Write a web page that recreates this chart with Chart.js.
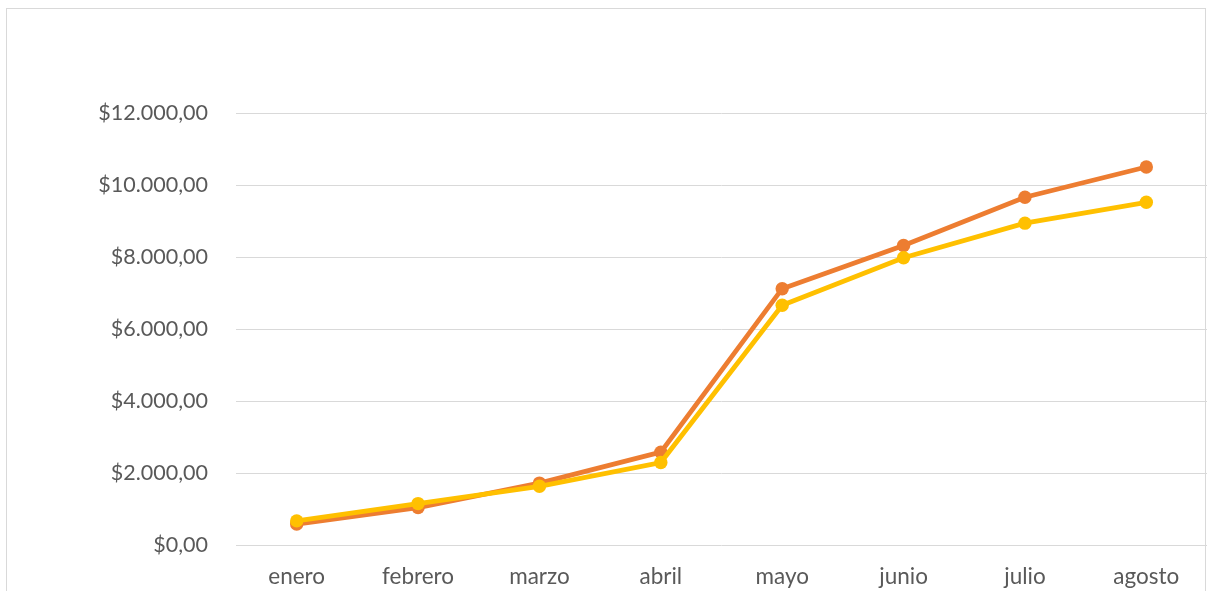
<!DOCTYPE html>
<html>
<head>
<meta charset="utf-8">
<script src="https://cdn.jsdelivr.net/npm/chart.js@4/dist/chart.umd.min.js"></script>
<style>
  html, body { margin: 0; padding: 0; background: #ffffff; overflow: hidden; }
  #wrap { position: absolute; left: 0; top: 0; width: 1209px; height: 591px; }
</style>
</head>
<body>
<div id="wrap"><canvas id="c" width="1209" height="591"></canvas></div>
<script>
// Months on the horizontal axis
const meses = ['enero', 'febrero', 'marzo', 'abril', 'mayo', 'junio', 'julio', 'agosto'];
// Monthly amounts for each series
const serieNaranja = [580, 1040, 1720, 2580, 7120, 8320, 9660, 10500];
const serieAmarilla = [670, 1150, 1630, 2290, 6660, 7980, 8940, 9520];
// Value axis range and step
const yMin = 0;
const yMax = 12000;
const yStep = 2000;

// "$12.000,00" style currency text
function moneda(v) {
  const entero = Math.round(v).toString().replace(/\B(?=(\d{3})+(?!\d))/g, '.');
  return '$' + entero + ',00';
}

// Light frame around the whole chart
const marco = {
  id: 'marco',
  beforeDraw(chart) {
    const ctx = chart.ctx;
    ctx.save();
    ctx.strokeStyle = '#d9d9d9';
    ctx.lineWidth = 1;
    ctx.strokeRect(6.5, 8.5, 1199, 600);
    ctx.restore();
  }
};

const familia = 'Lato, "Open Sans", sans-serif';

new Chart(document.getElementById('c'), {
  type: 'line',
  data: {
    labels: meses,
    datasets: [
      {
        label: 'Serie 1',
        data: serieNaranja,
        borderColor: '#ED7D31',
        backgroundColor: '#ED7D31',
        borderWidth: 4.8,
        pointRadius: 6.7,
        pointHoverRadius: 6.7,
        pointBorderWidth: 0,
        tension: 0,
        clip: false,
        order: 2
      },
      {
        label: 'Serie 2',
        data: serieAmarilla,
        borderColor: '#FFC000',
        backgroundColor: '#FFC000',
        borderWidth: 4.8,
        pointRadius: 6.7,
        pointHoverRadius: 6.7,
        pointBorderWidth: 0,
        tension: 0,
        clip: false,
        order: 1
      }
    ]
  },
  options: {
    responsive: false,
    animation: false,
    layout: { autoPadding: false, padding: { top: 113, right: 2, left: 0, bottom: 0 } },
    plugins: { legend: { display: false }, tooltip: { enabled: false } },
    scales: {
      x: {
        offset: true,
        grid: { display: false, drawTicks: false },
        border: { display: false },
        ticks: { color: '#595959', font: { family: familia, size: 22.5 }, padding: 18, maxRotation: 0 },
        afterFit(scale) {
          scale.height = 46;
          scale.paddingLeft = 0;
          scale.paddingRight = 0;
        }
      },
      y: {
        min: yMin,
        max: yMax,
        grid: { color: '#d9d9d9', lineWidth: 1, drawTicks: false },
        border: { display: false },
        ticks: {
          stepSize: yStep,
          color: '#595959',
          font: { family: familia, size: 21.5 },
          padding: 28,
          callback: (v) => moneda(v)
        },
        afterFit(scale) { scale.width = 236; }
      }
    }
  },
  plugins: [marco]
});
</script>
</body>
</html>
